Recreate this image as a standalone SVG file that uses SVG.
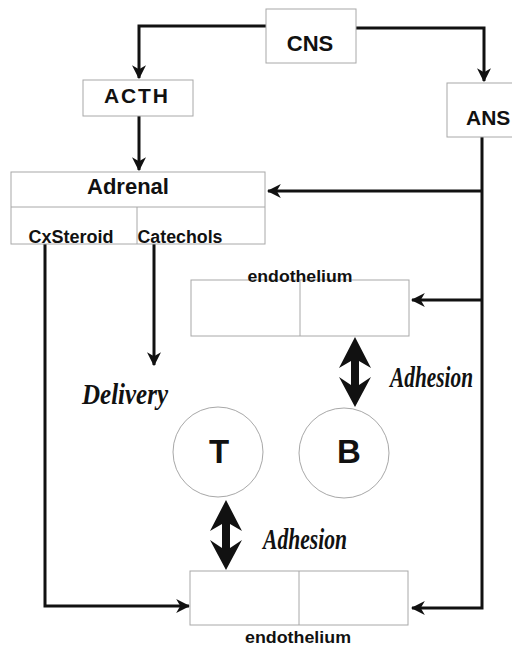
<svg xmlns="http://www.w3.org/2000/svg" width="512" height="646" viewBox="0 0 512 646">
<style>
.box{fill:#fff;stroke:#a8a8a8;stroke-width:1}
.ln{fill:none;stroke:#111;stroke-width:3}
.lbl{font-family:"Liberation Sans",Arial,sans-serif;font-weight:bold;fill:#111;text-anchor:middle}
.scr{font-family:"Liberation Serif","DejaVu Serif",serif;font-style:italic;font-weight:bold;fill:#111}
.dbl{fill:#111}
</style>
<defs>
<marker id="ah" markerUnits="userSpaceOnUse" viewBox="0 0 12 12" refX="11" refY="6" markerWidth="14" markerHeight="14" orient="auto">
<path d="M0,0 L12,6 L0,12 L3.5,6 z" fill="#111"/>
</marker>
<path id="dblarrow" d="M0,0 L16,31 L4,24 L4,48 L16,40 L0,70 L-16,40 L-4,48 L-4,24 L-16,31 z"/>
</defs>
<rect width="512" height="646" fill="#fff"/>

<g id="connectors">
<path class="ln" d="M266,26 H139 V78" marker-end="url(#ah)"/>
<path class="ln" d="M356,28 H484 V81" marker-end="url(#ah)"/>
<path class="ln" d="M139,116 V170" marker-end="url(#ah)"/>
<path class="ln" d="M482,137 V608 H412" marker-end="url(#ah)"/>
<path class="ln" d="M482,191 H268" marker-end="url(#ah)"/>
<path class="ln" d="M482,300 H412" marker-end="url(#ah)"/>
<path class="ln" d="M154,240 V365" marker-end="url(#ah)"/>
<path class="ln" d="M45,240 V606 H189" marker-end="url(#ah)"/>
<use href="#dblarrow" class="dbl" x="355" y="337"/>
<use href="#dblarrow" class="dbl" x="226" y="500"/>
</g>

<g id="CNS">
<rect class="box" x="266" y="9" width="90" height="54"/>
<text class="lbl" x="310" y="51" font-size="22">CNS</text>
</g>

<g id="ACTH">
<rect class="box" x="83" y="80" width="110" height="36"/>
<text class="lbl" x="136" y="103" font-size="21" textLength="64" lengthAdjust="spacing">ACTH</text>
</g>

<g id="ANS">
<rect class="box" x="447" y="83" width="70" height="54"/>
<text class="lbl" x="466" y="125" font-size="21" style="text-anchor:start">ANS</text>
</g>

<g id="Adrenal">
<rect class="box" x="11" y="172" width="254" height="72"/>
<line class="box" x1="11" y1="207" x2="265" y2="207"/>
<line class="box" x1="137" y1="207" x2="137" y2="244"/>
<text class="lbl" x="128" y="194" font-size="22">Adrenal</text>
<text class="lbl" x="71" y="243" font-size="18" textLength="85" lengthAdjust="spacingAndGlyphs">CxSteroid</text>
<text class="lbl" x="180" y="243" font-size="18" textLength="85" lengthAdjust="spacingAndGlyphs">Catechols</text>
</g>

<g id="endothelium-top">
<rect class="box" x="191" y="280" width="218" height="56"/>
<line class="box" x1="300" y1="280" x2="300" y2="336"/>
<text class="lbl" x="300" y="282" font-size="16" textLength="105" lengthAdjust="spacingAndGlyphs">endothelium</text>
</g>

<g id="T">
<circle class="box" cx="218" cy="452" r="45"/>
<text class="lbl" x="219" y="463" font-size="33">T</text>
</g>

<g id="B">
<circle class="box" cx="344" cy="453" r="45"/>
<text class="lbl" x="349" y="463" font-size="33">B</text>
</g>

<g id="endothelium-bottom">
<rect class="box" x="190" y="571" width="218" height="54"/>
<line class="box" x1="299" y1="571" x2="299" y2="625"/>
<text class="lbl" x="298" y="643" font-size="16" textLength="106" lengthAdjust="spacingAndGlyphs">endothelium</text>
</g>

<g id="labels">
<text class="scr" x="82" y="404" font-size="30" textLength="86" lengthAdjust="spacingAndGlyphs">Delivery</text>
<text class="scr" x="390" y="387" font-size="29" textLength="83" lengthAdjust="spacingAndGlyphs">Adhesion</text>
<text class="scr" x="263" y="549" font-size="29" textLength="84" lengthAdjust="spacingAndGlyphs">Adhesion</text>
</g>
</svg>
